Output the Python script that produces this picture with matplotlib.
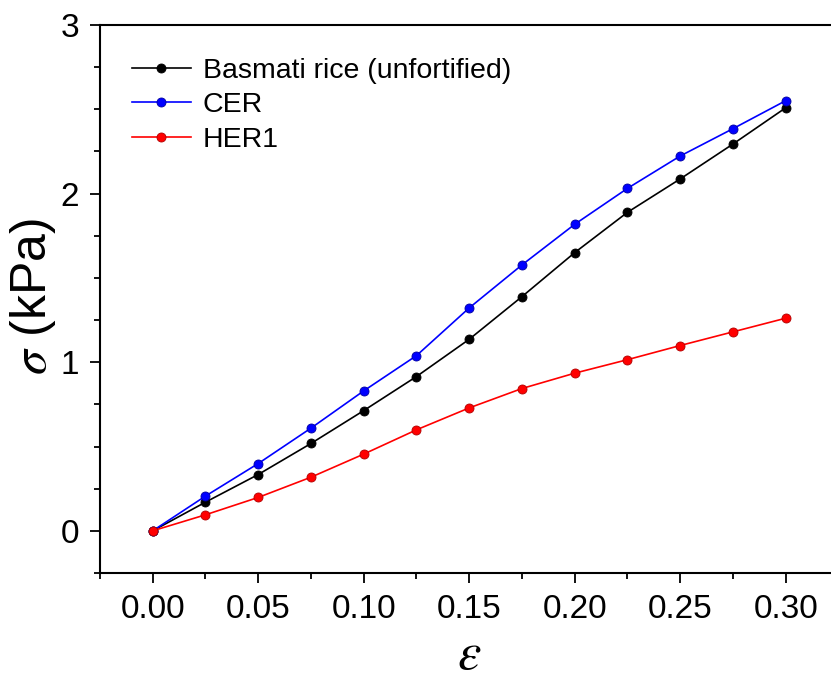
import numpy as np
import matplotlib.pyplot as plt
from matplotlib.ticker import MultipleLocator

plt.rcParams['font.family'] = ['Liberation Sans', 'DejaVu Sans']
plt.rcParams['mathtext.fontset'] = 'stix'

# strain values
strain = [0.0, 0.025, 0.05, 0.075, 0.1, 0.125, 0.15, 0.175, 0.2, 0.225, 0.25, 0.275, 0.3]

# stress (kPa)
basmati = [0.0, 0.17, 0.334, 0.518, 0.713, 0.915, 1.136, 1.389, 1.650, 1.889, 2.087, 2.294, 2.509]
cer = [0.0, 0.206, 0.399, 0.609, 0.830, 1.039, 1.322, 1.577, 1.818, 2.031, 2.223, 2.385, 2.551]
her1 = [0.0, 0.095, 0.198, 0.318, 0.455, 0.599, 0.729, 0.844, 0.935, 1.015, 1.099, 1.180, 1.261]

labels = ['Basmati rice (unfortified)', 'CER', 'HER1']
colors = ['black', 'blue', 'red']
edges = ['#000000', '#0000a0', '#b00000']

fig = plt.figure(figsize=(8.31, 6.90), dpi=100)
ax = fig.add_axes([0.1203, 0.1696, 0.8887, 0.7942])

for ys, lab, c, ec in zip([basmati, cer, her1], labels, colors, edges):
    ax.plot(strain, ys, '-o', color=c, lw=1.2, ms=6.5, mfc=c, mec=ec, mew=0.6, label=lab)

ax.set_xlim(-0.025, 0.325)
ax.set_ylim(-0.25, 3)
ax.xaxis.set_major_locator(MultipleLocator(0.05))
ax.xaxis.set_minor_locator(MultipleLocator(0.025))
ax.yaxis.set_major_locator(MultipleLocator(1))
ax.yaxis.set_minor_locator(MultipleLocator(0.25))
ax.xaxis.set_major_formatter(plt.FormatStrFormatter('%.2f'))

for s in ax.spines.values():
    s.set_linewidth(1.5)
ax.tick_params(which='major', direction='out', length=7, width=1.3, labelsize=24, pad=8)
ax.tick_params(which='minor', direction='out', length=4, width=1.3)

ax.set_xlabel(r'$\varepsilon$', fontsize=38, labelpad=4)
ax.set_ylabel(r'$\sigma$ (kPa)', fontsize=36)
ax.yaxis.set_label_coords(-0.057, 0.504)

ax.legend(loc='upper left', bbox_to_anchor=(0.008, 0.987), frameon=False, fontsize=20.5,
          handlelength=2.1, handletextpad=0.4, labelspacing=0.3)

fig.savefig('out.png', dpi=100)
